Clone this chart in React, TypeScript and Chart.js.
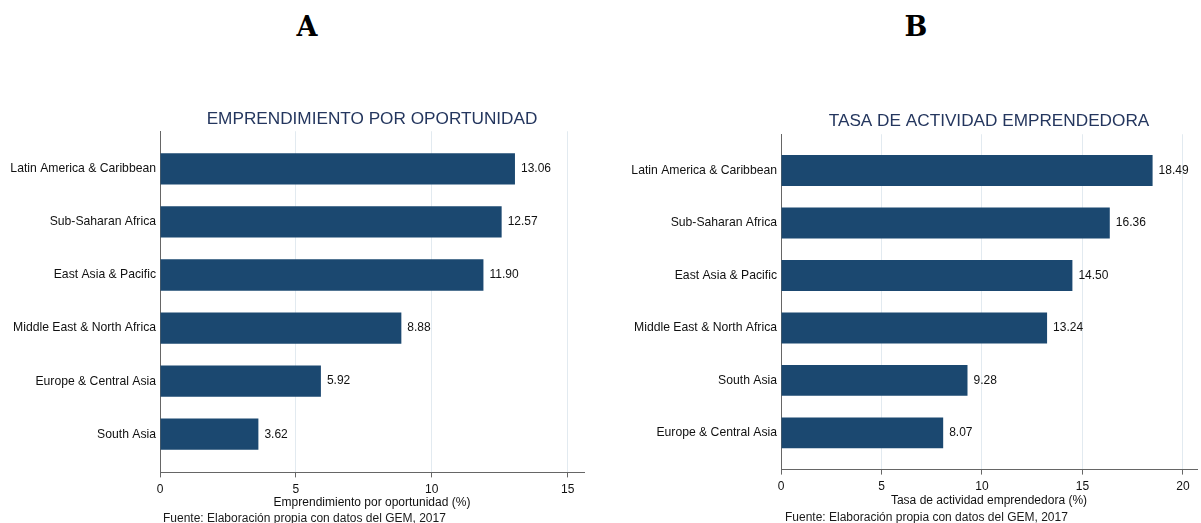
import React, { useEffect, useRef } from 'react';
import { Chart, registerables } from 'chart.js';

Chart.register(...registerables);

// ---- Data ----
const categoriesA = [
  'Latin America & Caribbean',
  'Sub-Saharan Africa',
  'East Asia & Pacific',
  'Middle East & North Africa',
  'Europe & Central Asia',
  'South Asia',
];
const valuesA = [13.06, 12.57, 11.9, 8.88, 5.92, 3.62];
const xTicksA = [0, 5, 10, 15];

const categoriesB = [
  'Latin America & Caribbean',
  'Sub-Saharan Africa',
  'East Asia & Pacific',
  'Middle East & North Africa',
  'South Asia',
  'Europe & Central Asia',
];
const valuesB = [18.49, 16.36, 14.5, 13.24, 9.28, 8.07];
const xTicksB = [0, 5, 10, 15, 20];

const titleA = 'EMPRENDIMIENTO POR OPORTUNIDAD';
const titleB = 'TASA DE ACTIVIDAD EMPRENDEDORA';
const axisTitleA = 'Emprendimiento por oportunidad (%)';
const axisTitleB = 'Tasa de actividad emprendedora (%)';
const sourceText = 'Fuente: Elaboración propia con datos del GEM, 2017';

const FONT = "'Liberation Sans', Arial, sans-serif";
const BAR_COLOR = '#1b4870';
const AXIS_COLOR = '#666666';
const GRID_COLOR = '#e2eaf0';
const TITLE_COLOR = '#24365e';

type PanelProps = {
  categories: string[];
  values: number[];
  xTicks: number[];
  xMax: number;
  yMin: number;
  yMax: number;
  title: string;
  axisTitle: string;
  width: number;
  height: number;
  yAxisWidth: number;
  padRight: number;
  padBottom: number;
  titleTop: number;
  titleBottom: number;
  xAxisHeight: number;
};

const valueLabels = (values: number[]) => ({
  id: 'valueLabels',
  afterDatasetsDraw(chart: any) {
    const ctx = chart.ctx;
    const meta = chart.getDatasetMeta(0);
    ctx.save();
    ctx.font = `12px ${FONT}`;
    ctx.fillStyle = '#111111';
    ctx.textAlign = 'left';
    ctx.textBaseline = 'middle';
    meta.data.forEach((bar: any, i: number) => {
      ctx.fillText(values[i].toFixed(2), bar.x + 6, bar.y);
    });
    ctx.restore();
  },
});

function Panel(p: PanelProps) {
  const ref = useRef<HTMLCanvasElement>(null);
  useEffect(() => {
    if (!ref.current) return;
    const chart = new Chart(ref.current, {
      type: 'bar',
      data: {
        datasets: [
          {
            data: p.values.map((v, i) => ({ x: v, y: i })) as any,
            backgroundColor: BAR_COLOR,
            borderWidth: 0,
            barPercentage: 0.59,
            categoryPercentage: 1,
          },
        ],
      },
      options: {
        indexAxis: 'y',
        animation: false,
        responsive: false,
        layout: { padding: { left: 0, right: p.padRight, top: 0, bottom: p.padBottom } },
        plugins: {
          legend: { display: false },
          tooltip: { enabled: false },
          title: {
            display: true,
            text: p.title,
            fullSize: false,
            color: TITLE_COLOR,
            font: { family: FONT, size: 17.2, weight: 'normal' },
            padding: { top: p.titleTop, bottom: p.titleBottom },
          },
        },
        scales: {
          x: {
            type: 'linear',
            min: 0,
            max: p.xMax,
            offset: false,
            afterBuildTicks: (scale: any) => {
              scale.ticks = p.xTicks.map((v) => ({ value: v }));
            },
            afterFit: (scale: any) => {
              scale.height = p.xAxisHeight;
            },
            grid: {
              color: GRID_COLOR,
              lineWidth: 1,
              tickLength: 5,
              tickColor: AXIS_COLOR,
            },
            border: { display: true, color: AXIS_COLOR, width: 1 },
            ticks: {
              color: '#111111',
              font: { family: FONT, size: 12 },
              padding: 5,
              maxRotation: 0,
            },
            title: {
              display: true,
              text: p.axisTitle,
              color: '#111111',
              font: { family: FONT, size: 12 },
              padding: { top: 0, bottom: 0 },
            },
          },
          y: {
            type: 'linear',
            reverse: true,
            offset: false,
            min: p.yMin,
            max: p.yMax,
            afterBuildTicks: (scale: any) => {
              scale.ticks = p.categories.map((_, i) => ({ value: i }));
            },
            afterFit: (scale: any) => {
              scale.width = p.yAxisWidth;
            },
            grid: { display: false, drawTicks: false, offset: false },
            border: { display: true, color: AXIS_COLOR, width: 1 },
            ticks: {
              color: '#111111',
              font: { family: FONT, size: 12.2 },
              padding: 4,
              autoSkip: false,
              callback: (v: any) => p.categories[Number(v)] ?? '',
            },
          },
        },
      },
      plugins: [valueLabels(p.values)],
    });
    return () => chart.destroy();
  }, []);
  return <canvas ref={ref} width={p.width} height={p.height} style={{ display: 'block' }} />;
}

const letterStyle: React.CSSProperties = {
  position: 'absolute',
  top: 11,
  width: 100,
  textAlign: 'center',
  fontFamily: "'DejaVu Serif', serif",
  fontWeight: 'bold',
  fontSize: 27,
  lineHeight: '32px',
  color: '#000',
};

const sourceStyle: React.CSSProperties = {
  position: 'absolute',
  fontFamily: FONT,
  fontSize: 12,
  lineHeight: '14px',
  color: '#1a1a1a',
  whiteSpace: 'nowrap',
};

export default function App() {
  return (
    <div
      style={{
        position: 'absolute',
        left: 0,
        top: 0,
        width: 1201,
        height: 523,
        background: '#ffffff',
        overflow: 'hidden',
      }}
    >
      <div style={{ ...letterStyle, left: 257 }}>A</div>
      <div style={{ ...letterStyle, left: 866 }}>B</div>
      <div style={{ position: 'absolute', left: 0, top: 0 }}>
        <Panel
          categories={categoriesA}
          values={valuesA}
          xTicks={xTicksA}
          xMax={15.6}
          yMin={-0.71}
          yMax={5.72}
          title={titleA}
          axisTitle={axisTitleA}
          width={600}
          height={523}
          yAxisWidth={160}
          padRight={16}
          padBottom={13}
          titleTop={108.8}
          titleBottom={1.8}
          xAxisHeight={37.6}
        />
      </div>
      <div style={{ position: 'absolute', left: 600, top: 0 }}>
        <Panel
          categories={categoriesB}
          values={valuesB}
          xTicks={xTicksB}
          xMax={20.7}
          yMin={-0.69}
          yMax={5.7}
          title={titleB}
          axisTitle={axisTitleB}
          width={601}
          height={523}
          yAxisWidth={181}
          padRight={4}
          padBottom={15.5}
          titleTop={110.8}
          titleBottom={2.8}
          xAxisHeight={37.9}
        />
      </div>
      <div style={{ ...sourceStyle, left: 163, top: 511 }}>{sourceText}</div>
      <div style={{ ...sourceStyle, left: 785, top: 510 }}>{sourceText}</div>
    </div>
  );
}
